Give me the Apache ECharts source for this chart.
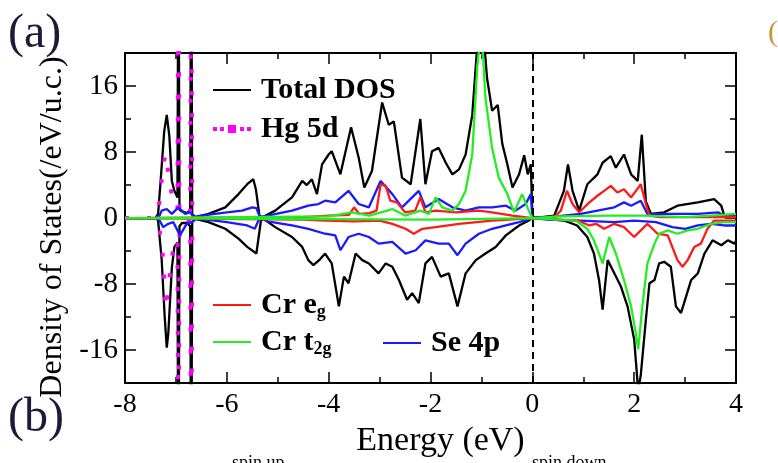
<!DOCTYPE html>
<html>
<head>
<meta charset="utf-8">
<script src="https://cdn.jsdelivr.net/npm/echarts@6/dist/echarts.min.js"></script>
<style>
html,body{margin:0;padding:0;background:#fff;}
#c{width:778px;height:463px;}
</style>
</head>
<body>
<div id="c"></div>
<script>
// ---------- tick labels ----------
const xTickValues = [-8, -6, -4, -2, 0, 2, 4];
const yMajorTicks = [-16, -8, 0, 8, 16];
const yMinorTicks = [-20, -12, -4, 4, 12, 20];

// ---------- Total DOS ----------
const totalUpE = [-8, -7.4, -7.35, -7.3, -7.23, -7.18, -7.13, -7.08, -7.03, -6.97, -6.95, -6.93, -6.88, -6.78, -6.72, -6.70, -6.68, -6.62, -6.36, -6.03, -5.77, -5.6, -5.48, -5.43, -5.36, -5.3, -5.05, -4.72, -4.52, -4.43, -4.33, -4.23, -4.13, -4.0, -3.94, -3.77, -3.56, -3.41, -3.3, -3.15, -2.95, -2.82, -2.72, -2.56, -2.39, -2.2, -2.1, -1.97, -1.84, -1.7, -1.57, -1.44, -1.31, -1.18, -1.08, -0.98, -0.89, -0.79, -0.68, -0.59, -0.49, -0.39, -0.26, -0.16, -0.09, -0.03, 0.0, 0.03, 0.43, 0.62, 0.7, 0.79, 0.92, 1.08, 1.28, 1.38, 1.54, 1.64, 1.8, 1.94, 2.07, 2.15, 2.23, 2.33, 2.59, 2.85, 3.25, 3.57, 3.71, 3.77, 4.0];
const totalUp  = [0, 0, 0.5, 4.5, 10.5, 12.5, 10, 4.5, 3.3, 2.5, 40, 1, 0.8, 0.6, 1, 40, 0.5, 0.1, 0.5, 1.3, 2.9, 4.1, 4.7, 3.5, 0.3, 0.1, 0.9, 2.5, 4.5, 4.0, 4.7, 2.9, 6.5, 7.7, 8.1, 5.3, 11, 7.3, 3.7, 5.7, 14, 11.3, 11.7, 4.9, 4.1, 12, 4.1, 8.1, 8.5, 6.7, 5.3, 5.9, 7.7, 12.5, 21, 24, 17, 13, 13.7, 9, 6.5, 3.7, 5.3, 7.6, 5.3, 6.5, 0.5, 0, 0.3, 3.3, 6.5, 3.3, 0.9, 4.1, 5.3, 6.7, 7.5, 6.1, 7.7, 5.3, 4.5, 10.1, 2, 0.5, 0.7, 1.5, 1.9, 2.3, 1.5, 0.3, 0.3];
const totalDnE = [-8, -7.4, -7.35, -7.28, -7.22, -7.18, -7.15, -7.08, -7.03, -6.97, -6.95, -6.93, -6.88, -6.78, -6.72, -6.70, -6.68, -6.62, -6.36, -6.03, -5.77, -5.6, -5.42, -5.33, -5.28, -5.05, -4.72, -4.52, -4.4, -4.3, -4.17, -4.07, -3.94, -3.8, -3.7, -3.61, -3.47, -3.34, -3.21, -3.02, -2.88, -2.75, -2.62, -2.46, -2.36, -2.23, -2.1, -1.97, -1.8, -1.64, -1.47, -1.31, -1.11, -0.92, -0.72, -0.52, -0.26, -0.07, 0, 0.1, 0.62, 0.88, 1.08, 1.21, 1.31, 1.38, 1.48, 1.61, 1.74, 1.87, 2.0, 2.08, 2.13, 2.23, 2.3, 2.4, 2.49, 2.59, 2.72, 2.82, 2.92, 2.98, 3.12, 3.25, 3.38, 3.54, 3.71, 3.84, 3.97, 4.0];
const totalDn  = [0, 0, -0.3, -5, -12, -15.7, -14, -6, -3.5, -3, -40, -1, -0.6, -0.6, -1, -40, -0.5, -0.1, -0.5, -1.3, -2.5, -3.5, -4.3, -0.3, -0.1, -1.1, -2.3, -3.5, -5.1, -5.7, -5.0, -4.3, -5.5, -10.7, -7.1, -7.9, -4.3, -5.1, -5.5, -6.7, -5.5, -5.9, -7.5, -9.9, -9.1, -10.3, -5.5, -4.7, -7.1, -6.7, -10.7, -6.7, -5.1, -4.3, -3.5, -2.1, -0.9, -0.3, 0, 0, -0.3, -0.9, -2.3, -4.3, -7.5, -11.1, -5.1, -6.7, -8.3, -10.7, -14.7, -21, -19, -12.3, -7.9, -7.5, -5.5, -5.3, -5.9, -10.7, -11.5, -10.3, -7.5, -6.7, -4.3, -2.7, -3.3, -2.7, -3.1, -2.8];

// ---------- Hg 5d ----------
const hgE   = [-8, -7.4, -7.32, -7.25, -7.2, -7.14, -7.06, -6.97, -6.95, -6.93, -6.88, -6.74, -6.72, -6.70, -6.68, -6.62, -6.4];
const hgUp  = [0, 0, 2, 6.5, 7.8, 5, 2, 1, 40, 0.8, 0.3, 0.3, 0.8, 40, 0.8, 0, 0];
const hgDn  = [0, 0, -1.5, -5, -11, -8, -4, -2.5, -40, -0.8, -0.3, -0.3, -0.8, -40, -0.8, 0, 0];

// ---------- Se 4p ----------
const seUpE = [-8, -7.4, -7.32, -7.28, -7.18, -7.08, -6.95, -6.82, -6.72, -6.65, -6.5, -6.0, -5.7, -5.5, -5.42, -5.35, -5.2, -4.72, -4.4, -4.2, -4.07, -3.87, -3.61, -3.41, -3.21, -2.98, -2.75, -2.56, -2.23, -2.1, -1.84, -1.57, -1.31, -1.05, -0.79, -0.52, -0.33, -0.13, -0.03, 0.0, 0.3, 0.62, 0.95, 1.28, 1.61, 1.8, 1.94, 2.13, 2.26, 2.59, 3.25, 3.65, 3.75, 4.0];
const seUp  = [0, 0, 0.3, 0.9, 1.1, 0.5, 1.3, 0.5, 0.7, 0.1, 0.3, 0.7, 0.9, 1.3, 1.2, 0.1, 0.3, 0.9, 1.5, 1.7, 2.1, 1.9, 3.3, 1.7, 1.3, 4.5, 2.9, 1.3, 3.3, 1.3, 2.3, 1.3, 0.9, 1.3, 1.3, 1.5, 0.9, 1.7, 2.9, 0.1, 0.1, 0.3, 0.5, 0.9, 1.3, 1.9, 1.5, 2.1, 0.5, 0.5, 0.5, 0.7, 0.3, 0.3];
const seDnE = [-8, -7.4, -7.32, -7.25, -7.15, -7.05, -6.92, -6.79, -6.69, -6.6, -6.4, -6.0, -5.6, -5.45, -5.38, -5.3, -5.2, -4.72, -4.4, -4.07, -3.87, -3.77, -3.61, -3.41, -3.21, -3.02, -2.75, -2.49, -2.29, -2.1, -1.84, -1.64, -1.47, -1.31, -1.05, -0.79, -0.52, -0.26, 0.0, 0.3, 0.95, 1.61, 2.0, 2.43, 2.75, 3.0, 3.25, 3.51, 3.77, 4.0];
const seDn  = [0, 0, -0.3, -1.1, -0.7, -0.5, -2.1, -0.7, -0.5, -0.1, -0.2, -0.5, -0.9, -1.3, -0.3, -0.1, -0.4, -0.9, -1.3, -1.9, -2.1, -3.9, -2.3, -1.9, -2.3, -3.1, -2.9, -4.3, -3.9, -2.7, -3.1, -3.1, -4.5, -3.1, -1.9, -1.3, -0.9, -0.5, 0, -0.2, -0.3, -0.5, -0.3, -0.5, -1.1, -1.3, -0.9, -0.7, -0.9, -0.9];

// ---------- Cr eg ----------
const egUpE = [-8, -4.5, -4.0, -3.6, -3.5, -3.4, -3.2, -3.06, -2.98, -2.88, -2.79, -2.66, -2.5, -2.3, -2.2, -2.1, -1.9, -1.5, -1.05, -0.79, -0.39, 0.0, 0.3, 0.43, 0.56, 0.68, 0.79, 0.92, 1.12, 1.28, 1.41, 1.54, 1.67, 1.8, 1.94, 2.13, 2.23, 2.3, 2.5, 4.0];
const egUp  = [0, 0.1, 0.3, 0.4, 1.3, 0.5, 0.6, 0.9, 4.1, 3.9, 2.1, 1.9, 0.7, 0.9, 2.5, 0.7, 0.9, 0.7, 0.9, 0.7, 0.3, 0, 0, 0.1, 0.9, 3.3, 1.7, 0.7, 1.9, 2.7, 3.3, 3.9, 3.1, 3.5, 2.5, 4.1, 1.7, 0.3, 0.1, 0.1];
const egDnE = [-8, -4.5, -4.07, -3.5, -3.0, -2.75, -2.49, -2.33, -2.16, -1.9, -1.44, -0.79, 0.0, 0.9, 1.12, 1.25, 1.41, 1.61, 1.8, 2.0, 2.13, 2.26, 2.46, 2.66, 2.85, 2.95, 3.05, 3.18, 3.31, 3.44, 3.57, 4.0];
const egDn  = [0, -0.2, -0.3, -0.4, -0.3, -0.7, -1.3, -1.9, -1.3, -1.1, -0.7, -0.3, 0, -0.3, -0.9, -0.7, -1.3, -0.7, -1.1, -2.3, -1.5, -0.7, -1.9, -2.1, -5.1, -5.9, -5.1, -3.5, -3.1, -1.3, -0.3, -0.3];

// ---------- Cr t2g ----------
const t2gUpE = [-8, -4.0, -3.54, -3.2, -2.9, -2.75, -2.5, -2.2, -2.03, -1.9, -1.77, -1.57, -1.44, -1.31, -1.18, -1.08, -1.0, -0.92, -0.79, -0.66, -0.49, -0.36, -0.2, -0.07, 0.0, 0.5, 1.5, 2.2, 3.0, 3.5, 4.0];
const t2gUp  = [0, 0.2, 0.7, 0.3, 0.8, 1.1, 0.3, 0.9, 0.5, 2.5, 1.3, 0.9, 1.7, 3.3, 7.7, 18.5, 23, 14.5, 8.5, 4.9, 2.9, 0.7, 2.9, 0.9, 0, 0.2, 0.3, 0.3, 0.1, 0.3, 0.5];
const t2gDnE = [-8, -2.0, 0.0, 0.85, 1.08, 1.21, 1.38, 1.51, 1.64, 1.8, 1.94, 2.03, 2.08, 2.16, 2.26, 2.4, 2.49, 2.66, 2.85, 3.05, 3.25, 3.51, 3.77, 4.0];
const t2gDn  = [0, -0.2, 0, -0.3, -1.3, -2.7, -5.5, -2.3, -4.3, -7.5, -10.7, -13.9, -15.9, -10.7, -5.5, -3.1, -1.9, -1.5, -1.9, -1.5, -1.3, -0.7, -0.5, -0.5];

// ---------- build ----------
const SERIF = 'Liberation Serif, Times New Roman, serif';
function pairs(xs, ys) { return xs.map((x, i) => [x, ys[i]]); }
function lineSeries(name, xs, ys, color, extra) {
  return Object.assign({
    name: name, type: 'line', data: pairs(xs, ys),
    symbol: 'none', showSymbol: false, clip: true,
    lineStyle: { color: color, width: 2.3 }, itemStyle: { color: color },
    xAxisIndex: 0, yAxisIndex: 0, animation: false, silent: true
  }, extra || {});
}
const hgStyle = { lineStyle: { color: '#ff00ff', width: 4, type: [4, 18] } };

const series = [
  lineSeries('Total DOS', totalUpE, totalUp, '#000000', {
    markLine: { silent: true, symbol: 'none', animation: false,
      label: { show: false },
      lineStyle: { color: '#000', width: 2, type: [7, 5] },
      data: [{ xAxis: 0 }] }
  }),
  lineSeries('Total DOS', totalDnE, totalDn, '#000000'),
  lineSeries('Hg 5d', hgE, hgUp, '#ff00ff', hgStyle),
  lineSeries('Hg 5d', hgE, hgDn, '#ff00ff', hgStyle),
  lineSeries('Se 4p', seUpE, seUp, '#1a1aff'),
  lineSeries('Se 4p', seDnE, seDn, '#1a1aff'),
  lineSeries('Cr eg', egUpE, egUp, '#ff1a1a'),
  lineSeries('Cr eg', egDnE, egDn, '#ff1a1a'),
  lineSeries('Cr t2g', t2gUpE, t2gUp, '#22ee22'),
  lineSeries('Cr t2g', t2gDnE, t2gDn, '#22ee22')
];

const legendRich = {
  m: { fontSize: 30, fontWeight: 'bold', fontFamily: SERIF, color: '#000', lineHeight: 32 },
  s: { fontSize: 18, fontWeight: 'bold', fontFamily: SERIF, color: '#000', lineHeight: 14, verticalAlign: 'bottom' }
};
function legendFmt(name) {
  if (name === 'Cr eg') return '{m|Cr e}{s|g}';
  if (name === 'Cr t2g') return '{m|Cr t}{s|2g}';
  return '{m|' + name + '}';
}
const LINE_ICON = 'rect';
const DOT_ICON = 'path://M0,2h4v4h-4z M7,2h4v4h-4z M15,0h8v8h-8z M27,2h4v4h-4z M34,2h4v4h-4z';
function legend(left, top, data, gap, icon, ih) {
  return {
    orient: 'vertical', left: left, top: top, padding: 0, itemWidth: 38, itemHeight: ih,
    icon: icon, itemGap: gap, data: data, formatter: legendFmt, selectedMode: false,
    textStyle: { rich: legendRich, padding: [0, 0, 0, 5] }
  };
}

const axisLineStyle = { show: true, onZero: false, lineStyle: { color: '#000', width: 2 } };
function xAx(pos, showLabel) {
  return {
    type: 'value', position: pos, min: -8, max: 4, interval: 2,
    axisLine: axisLineStyle,
    axisTick: { show: true, inside: true, length: 11, lineStyle: { color: '#000', width: 1.5 } },
    minorTick: { show: true, splitNumber: 2, length: 6, lineStyle: { color: '#000', width: 1.5 } },
    splitLine: { show: false }, minorSplitLine: { show: false },
    axisLabel: { show: showLabel, fontSize: 28, fontFamily: SERIF, color: '#000', margin: 8,
      customValues: xTickValues },
    name: showLabel ? 'Energy (eV)' : '', nameLocation: 'middle', nameGap: 35,
    nameTextStyle: { fontSize: 34, fontFamily: SERIF, color: '#000', padding: [0, 0, 0, 20] }
  };
}
function yAx(pos, ticks, len, showLabel, showLine) {
  return {
    type: 'value', position: pos, min: -20, max: 20, interval: 4,
    axisLine: showLine ? axisLineStyle : { show: false, onZero: false },
    axisTick: { show: true, inside: true, length: len, customValues: ticks,
      lineStyle: { color: '#000', width: 1.5 } },
    splitLine: { show: false },
    axisLabel: { show: showLabel, customValues: yMajorTicks, fontSize: 29, fontFamily: SERIF,
      color: '#000', margin: 7 },
    name: showLabel ? 'Density of States(/eV/u.c.)' : '', nameLocation: 'middle', nameGap: 56,
    nameTextStyle: { fontSize: 32, fontFamily: SERIF, color: '#000', padding: [0, 18, 0, 0] }
  };
}

const chart = echarts.init(document.getElementById('c'), null, { renderer: 'canvas' });
chart.setOption({
  animation: false,
  backgroundColor: '#fff',
  grid: { left: 125, right: 42, top: 53, bottom: 74, containLabel: false },
  xAxis: [xAx('bottom', true), xAx('top', false)],
  yAxis: [
    yAx('left', yMajorTicks, 11, true, true),
    yAx('left', yMinorTicks, 6, false, false),
    yAx('right', yMajorTicks, 11, false, true),
    yAx('right', yMinorTicks, 6, false, false)
  ],
  legend: [
    legend(213, 75, ['Total DOS'], 4, LINE_ICON, 2),
    legend(213, 114, ['Hg 5d'], 4, DOT_ICON, 8),
    legend(213, 290, ['Cr eg', 'Cr t2g'], 6, LINE_ICON, 2),
    legend(383, 328, ['Se 4p'], 4, LINE_ICON, 2)
  ],
  graphic: [
    { type: 'text', left: 8, top: 10, style: { text: '(a)', font: '48px ' + SERIF, fill: '#1c1c3a' } },
    { type: 'text', left: 8, top: 394, style: { text: '(b)', font: '48px ' + SERIF, fill: '#1c1c3a' } },
    { type: 'text', left: 232, top: 454, style: { text: 'spin up', font: '18px ' + SERIF, fill: '#000' } },
    { type: 'text', left: 532, top: 454, style: { text: 'spin down', font: '18px ' + SERIF, fill: '#000' } },
    { type: 'text', left: 768, top: 18, style: { text: '(c', font: '30px ' + SERIF, fill: '#c8963c' } }
  ],
  series: series
});
</script>
</body>
</html>
